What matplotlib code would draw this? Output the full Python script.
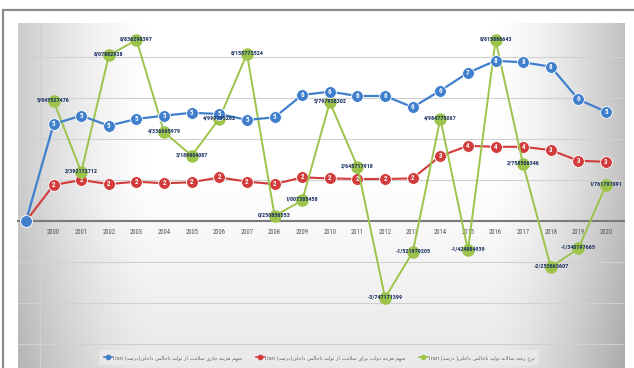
import matplotlib
matplotlib.use("Agg")
import matplotlib.pyplot as plt
import numpy as np
from matplotlib import font_manager
from matplotlib.patches import Rectangle
from matplotlib.lines import Line2D

years = [''] + [str(y) for y in range(2000, 2021)]
current_health = [0, 4.73, 5.14, 4.65, 4.98, 5.14, 5.28, 5.22, 4.93, 5.06, 6.15,
                  6.31, 6.10, 6.10, 5.55, 6.36, 7.23, 7.82, 7.74, 7.53, 5.93, 5.33]
gov_health = [0, 1.76, 2.00, 1.80, 1.92, 1.84, 1.89, 2.13, 1.92, 1.80, 2.13,
              2.08, 2.05, 2.05, 2.08, 3.17, 3.67, 3.62, 3.62, 3.46, 2.94, 2.89]
growth = [np.nan, 5.845527476, 2.392172712, 8.07882928, 8.836298397, 4.336665979,
          3.189804087, 4.999795262, 8.155773524, 0.250856553, 1.007385458,
          5.797938302, 2.645717918, -3.747171399, -1.521979205, 4.984775067,
          -1.424884939, 8.815886643, 2.758506346, -2.253863607, -1.340197665,
          1.761797091]

lbl_current = "سهم هزینه جاری سلامت از تولید ناخالص داخلی(درصد)"
lbl_gov = "سهم هزینه دولت برای سلامت از تولید ناخالص داخلی(درصد)"
lbl_growth = "نرخ رشد سالانه تولید ناخالص داخلی( درصد)"

# contextual forms: isolated, final, initial, medial
FORMS = {
    'ا': ('\uFE8D', '\uFE8E', None, None),
    'ب': ('\uFE8F', '\uFE90', '\uFE91', '\uFE92'),
    'ت': ('\uFE95', '\uFE96', '\uFE97', '\uFE98'),
    'ج': ('\uFE9D', '\uFE9E', '\uFE9F', '\uFEA0'),
    'خ': ('\uFEA5', '\uFEA6', '\uFEA7', '\uFEA8'),
    'د': ('\uFEA9', '\uFEAA', None, None),
    'ر': ('\uFEAD', '\uFEAE', None, None),
    'ز': ('\uFEAF', '\uFEB0', None, None),
    'س': ('\uFEB1', '\uFEB2', '\uFEB3', '\uFEB4'),
    'ش': ('\uFEB5', '\uFEB6', '\uFEB7', '\uFEB8'),
    'ص': ('\uFEB9', '\uFEBA', '\uFEBB', '\uFEBC'),
    'ل': ('\uFEDD', '\uFEDE', '\uFEDF', '\uFEE0'),
    'م': ('\uFEE1', '\uFEE2', '\uFEE3', '\uFEE4'),
    'ن': ('\uFEE5', '\uFEE6', '\uFEE7', '\uFEE8'),
    'ه': ('\uFEE9', '\uFEEA', '\uFEEB', '\uFEEC'),
    'و': ('\uFEED', '\uFEEE', None, None),
    'ی': ('\uFEEF', '\uFEF0', '\uFEF3', '\uFEF4'),
}


def dual(c):
    return c in FORMS and FORMS[c][2] is not None


def shape(text):
    out = []
    i = 0
    while i < len(text):
        c = text[i]
        prev = text[i - 1] if i > 0 else ''
        nxt = text[i + 1] if i + 1 < len(text) else ''
        if c not in FORMS:
            out.append(c)
            i += 1
            continue
        jp = dual(prev)
        if c == 'ل' and nxt == 'ا':
            out.append('\uFEFC' if jp else '\uFEFB')
            i += 2
            continue
        jn = dual(c) and nxt in FORMS
        f = FORMS[c]
        if jp and jn:
            out.append(f[3])
        elif jp:
            out.append(f[1])
        elif jn:
            out.append(f[2])
        else:
            out.append(f[0])
        i += 1
    vis = ''.join(reversed(out))
    return vis.replace('(', '\0').replace(')', '(').replace('\0', ')')


# pick a narrow font if there is one
fl = font_manager.fontManager.ttflist
names = {f.name for f in fl}
narrow, stretch = 'DejaVu Sans', 'normal'
for cand in ['Liberation Sans Narrow', 'DejaVu Sans Condensed', 'Roboto Condensed',
             'Noto Sans Condensed', 'Open Sans Condensed']:
    if cand in names:
        narrow = cand
        break
else:
    cond = [f for f in fl if f.stretch in ('condensed', 'semi-condensed', 'extra-condensed')]
    if cond:
        narrow, stretch = cond[0].name, 'condensed'
    else:
        other = sorted(n for n in names if 'Narrow' in n or 'Condensed' in n)
        if other:
            narrow = other[0]

blue = '#3f7fcc'
red = '#d23b3b'
green = '#9cc34a'

fig = plt.figure(figsize=(6.34, 3.68), dpi=100)
ax = fig.add_axes([18 / 634, 0, 606 / 634, 345 / 368])
x = np.arange(len(years))
ax.set_xlim(-0.29, 21.65)
ax.set_ylim(-7.17, 9.66)

# background gradient
gx, gy = np.meshgrid(np.linspace(0, 1, 300), np.linspace(0, 1, 200))
shade = (1 - 0.20 * np.clip(1 - gx / 0.22, 0, 1) ** 1.5
         - 0.24 * np.clip((gx - 0.78) / 0.22, 0, 1) ** 1.5
         - 0.09 * np.clip((0.55 - gy) / 0.55, 0, 1))
img = np.dstack([shade, shade, shade])
ax.imshow(img, extent=[0, 1, 0, 1], transform=ax.transAxes, origin='lower',
          aspect='auto', zorder=0)

for gv in [-6, -4, -2, 2, 4, 6, 8]:
    ax.axhline(gv, color='#d0d0d0', lw=0.8, zorder=1)
ax.axvline(0.5, color='#d0d0d0', lw=0.8, zorder=1)

for s in ['top', 'right', 'left']:
    ax.spines[s].set_visible(False)
ax.spines['bottom'].set_position(('data', 0))
ax.spines['bottom'].set_color('#7a7a7a')
ax.spines['bottom'].set_linewidth(1.5)
ax.spines['bottom'].set_zorder(2)
ax.set_yticks([])
ax.set_xticks(x)
ax.set_xticklabels(years, fontsize=4.8, color='#555555', family=narrow, stretch=stretch)
ax.tick_params(axis='x', length=0, pad=6)

ax.plot(x, gov_health, color=red, lw=1.5, marker='o', ms=8.5, mec='white', mew=0.6, zorder=3)
ax.plot(x, growth, color=green, lw=1.4, marker='o', ms=8, mec=green, zorder=4)
ax.plot(x, current_health, color=blue, lw=1.6, marker='o', ms=8.5, mec='white', mew=0.6, zorder=5)

for xi, v in zip(x, gov_health):
    ax.text(xi, v, str(int(round(v))), color='white', fontsize=5, fontweight='bold',
            family=narrow, stretch=stretch, ha='center', va='center', zorder=3.5)
for xi, v in zip(x[1:], current_health[1:]):
    ax.text(xi, v, str(int(round(v))), color='white', fontsize=5, fontweight='bold',
            family=narrow, stretch=stretch, ha='center', va='center', zorder=5.5)
for xi, v in zip(x, growth):
    if np.isnan(v):
        continue
    ax.text(xi, v + 0.05, str(v).replace('.', '/'), color='#1f3567', fontsize=4.4,
            fontweight='bold', family=narrow, stretch=stretch, ha='center', va='center',
            zorder=6)

handles = [
    Line2D([], [], color=blue, lw=1.2, marker='o', ms=3),
    Line2D([], [], color=red, lw=1.2, marker='o', ms=3),
    Line2D([], [], color=green, lw=1.2, marker='o', ms=3),
]
labels = ['Iran ' + shape(lbl_current), 'Iran ' + shape(lbl_gov), 'iran ' + shape(lbl_growth)]
leg = ax.legend(handles, labels, loc='lower center', bbox_to_anchor=(0.497, 0.008),
                ncol=3, frameon=True, fancybox=False, handlelength=1.6,
                handletextpad=0.3, columnspacing=2.6, borderpad=0.9, borderaxespad=0,
                prop={'family': 'DejaVu Sans', 'size': 3.7})
leg.get_frame().set_facecolor('#ebebeb')
leg.get_frame().set_edgecolor('none')
for t in leg.get_texts():
    t.set_color('#666666')

fig.add_artist(Rectangle((3 / 634, -0.1), 2, 1.1 - 10 / 368, transform=fig.transFigure,
                         fill=False, edgecolor='#8a8a8a', lw=1.6))

fig.savefig('out.png', dpi=100)
